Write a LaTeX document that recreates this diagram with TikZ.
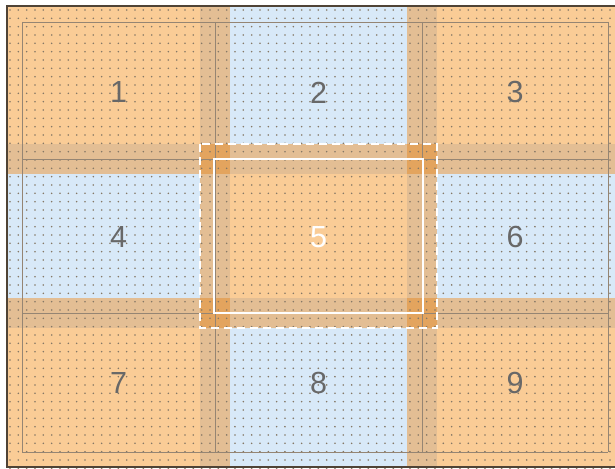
\documentclass[tikz,border=0pt]{standalone}
\usepackage{fontspec}
\setmainfont{Liberation Sans}
\usetikzlibrary{positioning}

\definecolor{cellorange}{HTML}{FACC96}
\definecolor{cellblue}{HTML}{D8E9F8}
\definecolor{stripec}{HTML}{E3BE94}
\definecolor{crossc}{HTML}{E3A45E}
\definecolor{gridc}{HTML}{958573}
\definecolor{dotc}{HTML}{857866}
\definecolor{framec}{HTML}{4F4336}
\definecolor{labelc}{HTML}{686868}

\begin{document}
\begin{tikzpicture}[x=1pt, y=-1pt,
  bluecell/.style={fill=cellblue},
  stripebox/.style={fill=stripec},
  crossbox/.style={fill=crossc},
  thinline/.style={draw=gridc, line width=0.9pt},
  num/.style={font=\fontsize{30.5}{36}\selectfont, text=labelc, inner sep=0pt}]
  \clip (0,0) rectangle (615,468);
  \fill[white] (0,0) rectangle (615,468);

  % cells
  \fill[cellorange] (7,6) rectangle (623,467);
  \fill[bluecell] (230,6) rectangle (407,144);
  \fill[bluecell] (7,174) rectangle (200,298);
  \fill[bluecell] (437,174) rectangle (623,298);
  \fill[bluecell] (230,328) rectangle (407,467);

  % stripes and their crossings
  \fill[stripebox] (200,6) rectangle (230,467);
  \fill[stripebox] (407,6) rectangle (437,467);
  \fill[stripebox] (7,144) rectangle (623,174);
  \fill[stripebox] (7,298) rectangle (623,328);
  \foreach \x in {200,407}
    \foreach \y in {144,298}
      \fill[crossbox] (\x,\y) rectangle ++(30,30);

  % dot grid
  \foreach \i in {0,...,73}
    \foreach \j in {0,...,55}
      \fill[dotc] (10+\i*8.333,10+\j*8.333) circle (0.9pt);

  % thin grid
  \foreach \x in {22,215,422,608}
    \draw[thinline] (\x,22) -- (\x,452);
  \foreach \y in {22,159,313,452}
    \draw[thinline] (22,\y) -- (608,\y);

  % selection
  \draw[white, line width=2pt, dash pattern=on 8pt off 5pt] (200,144) rectangle (437,328);
  \draw[white, line width=2pt] (214,159) rectangle (423,313);

  % labels
  \node[num] (c1) at (118.5,92.5) {1};
  \node[num] (c2) at (318.5,92.5) {2};
  \node[num] (c3) at (515,92.5) {3};
  \node[num] (c4) at (118.5,237) {4};
  \node[num, text=white] (c5) at (318.5,237) {5};
  \node[num] (c6) at (515,237) {6};
  \node[num] (c7) at (118.5,383) {7};
  \node[num] (c8) at (318.5,383) {8};
  \node[num] (c9) at (515,383) {9};

  % frame
  \draw[framec, line width=2pt] (623,6) -- (7,6) -- (7,467) -- (623,467);
\end{tikzpicture}
\end{document}
